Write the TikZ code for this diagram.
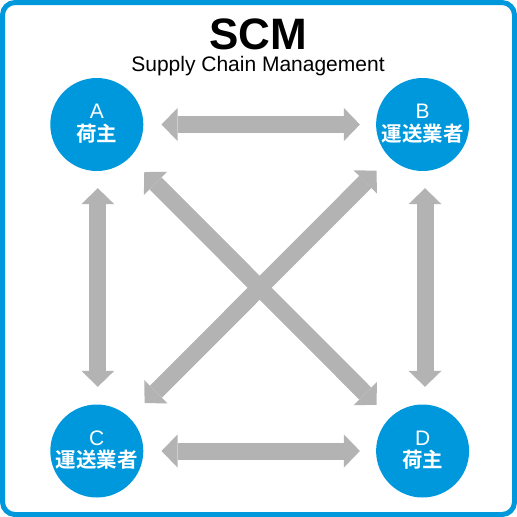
\documentclass[tikz,border=0pt]{standalone}
\usepackage{fontspec}
\setmainfont{Liberation Sans}
\newfontfamily\cjk{Noto Sans CJK JP Bold}
\usetikzlibrary{arrows.meta}
\definecolor{sblue}{RGB}{0,152,220}
\definecolor{agray}{RGB}{179,179,179}
\tikzset{
  party/.style={circle, fill=sblue, draw=none, minimum size=93pt, inner sep=0pt},
  lettxt/.style={anchor=base, text=white, inner sep=0pt, font=\fontsize{21}{21}\selectfont},
  cjktxt/.style={anchor=base, text=white, inner sep=0pt, font=\cjk\fontsize{20.5}{20.5}\selectfont},
  dbl/.style={draw=agray, line width=17pt,
    {Triangle[width=33pt,length=16pt,line width=0pt]}-{Triangle[width=33pt,length=16pt,line width=0pt]}},
}
\begin{document}
\begin{tikzpicture}[x=1pt,y=-1pt]
\useasboundingbox (0,0) rectangle (517,517);
\draw[sblue, line width=5pt, rounded corners=12.5pt] (2.5,2.5) rectangle (514.5,514.5);
\node[anchor=base, inner sep=0pt, font=\fontsize{44}{44}\selectfont\bfseries] (title) at (258,49) {SCM};
\node[anchor=base, inner sep=0pt, font=\fontsize{21}{21}\selectfont] (sub) at (258,71) {Supply Chain Management};
\node[party] (A) at (96.8,124.5) {};
\node[party] (B) at (422.6,124.5) {};
\node[party] (C) at (96.8,451) {};
\node[party] (D) at (422.6,451) {};
\foreach \n/\l/\t in {A/A/荷主, B/B/運送業者, C/C/運送業者, D/D/荷主}{
  \node[lettxt] (\n let) at ([yshift=6pt]\n.center) {\l};
  \node[cjktxt] (\n cjk) at ([yshift=-16.5pt]\n.center) {\t};
}
\draw[dbl, shorten <=18pt, shorten >=16pt] (A) -- (B);
\draw[dbl, shorten <=18pt, shorten >=16pt] (C) -- (D);
\draw[dbl, shorten <=17pt, shorten >=17.5pt] ([xshift=1pt]A.south) -- ([xshift=1pt]C.north);
\draw[dbl, shorten <=17pt, shorten >=17.5pt] ([xshift=2.4pt]B.south) -- ([xshift=2.4pt]D.north);
\draw[dbl, shorten <=20.5pt, shorten >=18.5pt] (A) -- (D);
\draw[dbl, shorten <=18.5pt, shorten >=21pt] (B) -- (C);
\end{tikzpicture}
\end{document}
